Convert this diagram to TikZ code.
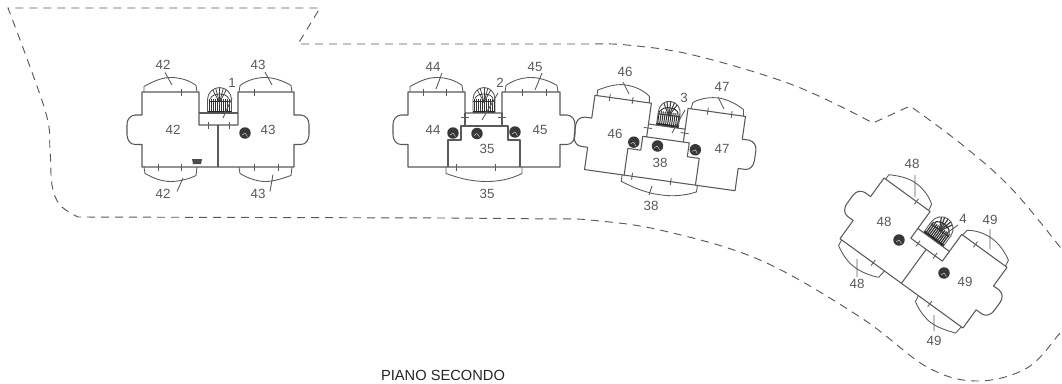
\documentclass[tikz,border=0pt]{standalone}
\usepackage{fontspec}
\setmainfont{Liberation Sans}
\definecolor{ln}{HTML}{5A5A5A}
\definecolor{tx}{HTML}{5A5A5A}
\tikzset{
  wall/.style={draw=ln,line width=0.8pt,line join=round},
  thin wall/.style={draw=ln,line width=0.65pt},
  boundary/.style={draw=ln,line width=0.7pt,dash pattern=on 6pt off 4.5pt},
  lab/.style={text=tx,font=\fontsize{10}{11}\selectfont,inner sep=0pt},
  title/.style={text=black!85,font=\fontsize{11}{12}\selectfont,inner sep=0pt}
}
\newcommand{\rightbay}{--(76,-14.5)--(83,-14.5) .. controls (88,-14) and (91,-10) .. (91,-5)
     --(91,5) .. controls (91,10) and (88,15) .. (83,15)--(76,15)}
\newcommand{\leftbay}{--(-76,15)--(-83,15) .. controls (-88,15) and (-91,10) .. (-91,5)
     --(-91,-5) .. controls (-91,-10) and (-88,-14) .. (-83,-14.5)--(-76,-14.5)}
\newcommand{\topbalc}{%
  \draw[thin wall] (-74,-37.5)--(-74,-43) .. controls (-62,-50) and (-54,-52) .. (-47,-52)
     .. controls (-38,-52) and (-28,-49) .. (-22,-44)--(-21,-37.5);
  \draw[thin wall] (21,-37.5)--(22,-44) .. controls (30,-50) and (40,-52) .. (47,-52)
     .. controls (55,-52) and (65,-49) .. (73,-44)--(74,-37.5);
}
\newcommand{\botbalc}{%
  \draw[thin wall] (-74,37.5)--(-73,44) .. controls (-64,49) and (-56,52) .. (-47,52)
     .. controls (-38,52) and (-28,49) .. (-22,46)--(-21,37.5);
  \draw[thin wall] (21,37.5)--(22,44) .. controls (30,49) and (40,52) .. (47,52)
     .. controls (56,52) and (64,49) .. (73,46)--(74,37.5);
}
\newcommand{\hticks}[2]{\foreach \tx in {#2} {\draw[thin wall] (\tx,#1-3.5)--(\tx,#1+3.5);}}
% stair: #1 = x centre, #2 = half width, #3 = hatch width
\newcommand{\stair}[3]{%
  \begin{scope}[shift={(#1,0)}]
    \draw[thin wall,fill=white] (-#2,-17)--(-#2,-30) .. controls (-#2,-37) and (-6,-42) .. (0,-42)
       .. controls (6,-42) and (#2,-37) .. (#2,-30)--(#2,-17)--cycle;
    \clip (-#2,-17)--(-#2,-30) .. controls (-#2,-37) and (-6,-42) .. (0,-42)
       .. controls (6,-42) and (#2,-37) .. (#2,-30)--(#2,-17)--cycle;
    \foreach \sx in {-10,-8,-6,-4,-2,0,2,4,6,8,10}
      \draw[draw=black!80,line width=#3] (\sx,-31)--(\sx,-17);
    \foreach \sx in {-8,-4,0,4,8}
      \draw[draw=black!75,line width=#3] (0,-27)--(\sx,-42);
    \draw[draw=black!80,line width=#3] (-9,-31) .. controls (-7,-37) and (7,-37) .. (9,-31);
    \draw[draw=black!80,line width=#3] (-11,-28)--(11,-28);
    \draw[draw=black!85,line width=1.2pt] (-12,-18)--(12,-18);
  \end{scope}
}
\newcommand{\well}[2]{%
  \fill[black!78] (#1,#2) circle[radius=4.3pt];
  \draw[white,line width=0.25pt] (#1,#2)--++(2.5,3.5) (#1,#2)--++(-3,2);
}
\newcommand{\bldgAwalls}{%
  \draw[wall] (-76,-37.5)--(-19,-37.5)--(-19,-4.5)--(20,-4.5)--(20,-37.5)--(76,-37.5)\rightbay--(76,37.5)--(-76,37.5)\leftbay--cycle;
  \draw[wall] (-19,-16.5)--(20,-16.5) (0,-4.5)--(0,37.5);
  \topbalc \botbalc
  \hticks{-4.5}{-10,11}
}
\newcommand{\bldgB}{%
  \draw[wall] (-76,-37.5)--(-19,-37.5)--(-19,-16.5)--(18,-16.5)--(18,-37.5)--(76,-37.5)\rightbay--(76,37.5)--(-76,37.5)\leftbay--cycle;
  \draw[wall] (-19,-16.5)--(-19,-3.5)--(18,-3.5)--(18,-16.5);
  \draw[wall] (-36,37.5)--(-36,10.5)--(-23,10.5)--(-23,-3.5)--(-19,-3.5);
  \draw[wall] (18,-3.5)--(24,-3.5)--(24,10.5)--(36,10.5)--(36,37.5);
  \draw[thin wall] (-38,37.5)--(-38,44) .. controls (-24,49) and (-12,52) .. (3,52)
     .. controls (16,52) and (28,49) .. (38,44)--(38,37.5);
  \topbalc
  \hticks{-37.5}{-61,-38,38,62}
  \hticks{37.5}{-28,11}
  \draw[thin wall] (-23,-12.5)--(-15,-12.5) (14,-12.5)--(22,-12.5);
}
\begin{document}
\begin{tikzpicture}[x=0.75pt,y=-0.75pt]
\useasboundingbox (0,0) rectangle (1062,383);
\fill[white] (0,0) rectangle (1062,383);
\begin{scope}
\clip (0,0) rectangle (1062,383);
\draw[boundary] plot[smooth,tension=0.6] coordinates {(1068,322) (1060,333) (1027,368) (977,381) (927,367) (860,317) (760,260) (660,230) (590,220) (560,219)}
  -- (450,218) -- (80,217)
  -- plot[smooth,tension=0.6] coordinates {(78,217) (60,205) (52,185) (50,150) (45,110) (8,8)}
  -- (320,8) -- (298,44) -- (590,44)
  -- plot[smooth,tension=0.6] coordinates {(590,44) (627,45) (693,55) (793,85) (873,123)}
  -- (910,106)
  -- plot[smooth,tension=0.6] coordinates {(910,106) (960,143) (1010,187) (1060,247) (1070,262)};
\end{scope}

% building 1
\begin{scope}[shift={(218,129.5)}]
  \bldgAwalls
  \hticks{-37.5}{-37,36}
  \hticks{37.5}{-60,-37,36,60}
  \stair{1.5}{12}{0.55pt}
  \well{27}{3.5}
  \fill[black!70] (-26,29.5)--(-16,29.5)--(-17,34.5)--(-25,34.5)--cycle;
  \draw[thin wall] (-53,-57)--(-46,-44.5) (47,-57.5)--(54,-44.5) (-41,62)--(-35,48.5) (52,62)--(55,45);
  \draw[thin wall] (14,-31.5)--(5,-11.5);
\end{scope}

% building 2
\begin{scope}[shift={(484,129.5)}]
  \bldgB
  \stair{0}{11}{0.55pt}
  \well{-31}{3.5} \well{31}{2.5} \well{-7}{4}
  \draw[thin wall] (-42,-56.5)--(-48,-40.5) (58,-56.5)--(51,-39.5) (14,-36.5)--(-2,-9.5);
\end{scope}

% building 3
\begin{scope}[shift={(665,143)},rotate=-8]
  \bldgB
  \stair{0}{11}{0.75pt}
  \well{-31}{3.5} \well{31}{2.5} \well{-7}{4}
\end{scope}
\draw[thin wall] (623,82)--(629,94) (718,97)--(724,109) (685,110)--(672,133) (649,195)--(652,186);

% building 4
\begin{scope}[shift={(923.5,253)},rotate=-36]
  \bldgAwalls
  \hticks{-37.5}{-36,37}
  \hticks{37.5}{-35,35}
  \stair{0}{12}{0.9pt}
\end{scope}
\well{899}{240} \well{944}{273}
\draw[thin wall] (915,175)--(915,197) (990,229)--(990,249) (857,259)--(857,277) (934,315)--(934,331) (958,225)--(937,240);

\node[lab] (a1) at (163,65) {42};
\node[lab] (a2) at (258,65) {43};
\node[lab] (a3) at (173,130) {42};
\node[lab] (a4) at (268,130) {43};
\node[lab] (a5) at (163,194) {42};
\node[lab] (a6) at (258,194) {43};
\node[lab] (a7) at (232,83) {1};
\node[lab] (b1) at (433,67) {44};
\node[lab] (b2) at (535,67) {45};
\node[lab] (b3) at (433,130) {44};
\node[lab] (b4) at (540,130) {45};
\node[lab] (b5) at (487,149) {35};
\node[lab] (b6) at (487,194) {35};
\node[lab] (b7) at (500,83) {2};
\node[lab] (c1) at (625,72) {46};
\node[lab] (c2) at (722,87) {47};
\node[lab] (c3) at (615,134) {46};
\node[lab] (c4) at (722,149) {47};
\node[lab] (c5) at (660,163) {38};
\node[lab] (c6) at (651,206) {38};
\node[lab] (c7) at (684,98) {3};
\node[lab] (d1) at (912,164) {48};
\node[lab] (d2) at (990,220) {49};
\node[lab] (d3) at (884,222) {48};
\node[lab] (d4) at (965,282) {49};
\node[lab] (d5) at (857,284) {48};
\node[lab] (d6) at (934,341) {49};
\node[lab] (d7) at (963,219) {4};
\node[title] (t) at (443,375) {PIANO SECONDO};
\end{tikzpicture}
\end{document}
